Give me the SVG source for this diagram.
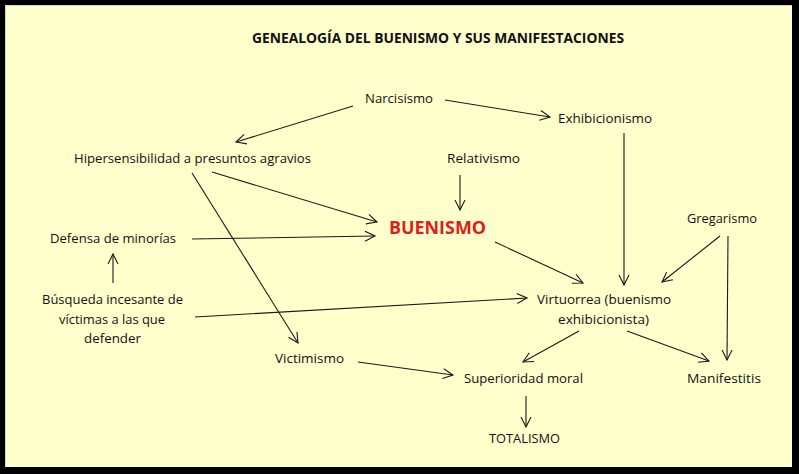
<svg xmlns="http://www.w3.org/2000/svg" width="799" height="474" viewBox="0 0 799 474">
<defs>
<style>
.t{font-family:"Open Sans","Liberation Sans",sans-serif;font-size:13px;fill:#111}
.title{font-family:"Open Sans","Liberation Sans",sans-serif;font-size:14.5px;font-weight:bold;fill:#111}
.main{font-family:"Open Sans","Liberation Sans",sans-serif;font-size:18.5px;font-weight:bold;fill:#e21b1b}
.c line{stroke:#1a1a1a;stroke-width:1.1;fill:none;marker-end:url(#ah)}
</style>
<marker id="ah" markerWidth="12" markerHeight="12" refX="11" refY="6" orient="auto" markerUnits="userSpaceOnUse">
<path d="M1,1 L11,6 L1,11" fill="none" stroke="#1a1a1a" stroke-width="1.1"/>
</marker>
</defs>
<rect x="0" y="0" width="799" height="474" fill="#000"/>
<rect x="5" y="5" width="787" height="462" fill="#ffffcc"/>
<path d="M5.5,467 V5.5 H792" fill="none" stroke="#d8d8d0" stroke-width="1"/>
<text class="title" x="252" y="43" textLength="372" lengthAdjust="spacingAndGlyphs">GENEALOGÍA DEL BUENISMO Y SUS MANIFESTACIONES</text>
<g class="c" id="connectors">
<line x1="353" y1="106" x2="236" y2="142"/>
<line x1="445" y1="100" x2="550" y2="117"/>
<line x1="624" y1="133" x2="624" y2="285"/>
<line x1="460" y1="175" x2="460" y2="210"/>
<line x1="212" y1="172" x2="377" y2="222"/>
<line x1="192" y1="173" x2="298" y2="343"/>
<line x1="192" y1="239" x2="375" y2="236"/>
<line x1="113" y1="283" x2="113" y2="254"/>
<line x1="195" y1="317" x2="527" y2="298"/>
<line x1="495" y1="242" x2="583" y2="283"/>
<line x1="720" y1="236" x2="662" y2="282"/>
<line x1="728" y1="236" x2="727" y2="360"/>
<line x1="579" y1="331" x2="523" y2="362"/>
<line x1="627" y1="331" x2="709" y2="361"/>
<line x1="358" y1="362" x2="453" y2="375"/>
<line x1="526" y1="396" x2="526" y2="427"/>
</g>
<g id="narcisismo"><text class="t" x="365" y="103" textLength="68" lengthAdjust="spacingAndGlyphs">Narcisismo</text></g>
<g id="exhibicionismo"><text class="t" x="558" y="123" textLength="94" lengthAdjust="spacingAndGlyphs">Exhibicionismo</text></g>
<g id="hipersensibilidad"><text class="t" x="74" y="163" textLength="237" lengthAdjust="spacingAndGlyphs">Hipersensibilidad a presuntos agravios</text></g>
<g id="relativismo"><text class="t" x="447" y="163" textLength="73" lengthAdjust="spacingAndGlyphs">Relativismo</text></g>
<g id="buenismo"><text class="main" x="389" y="234" textLength="97" lengthAdjust="spacingAndGlyphs">BUENISMO</text></g>
<g id="gregarismo"><text class="t" x="687" y="223" textLength="70" lengthAdjust="spacingAndGlyphs">Gregarismo</text></g>
<g id="defensa"><text class="t" x="50" y="243" textLength="126" lengthAdjust="spacingAndGlyphs">Defensa de minorías</text></g>
<g id="busqueda">
<text class="t" x="42" y="304" textLength="141" lengthAdjust="spacingAndGlyphs">Búsqueda incesante de</text>
<text class="t" x="59" y="324" textLength="106" lengthAdjust="spacingAndGlyphs">víctimas a las que</text>
<text class="t" x="84" y="343" textLength="57" lengthAdjust="spacingAndGlyphs">defender</text>
</g>
<g id="virtuorrea">
<text class="t" x="537" y="304" textLength="134" lengthAdjust="spacingAndGlyphs">Virtuorrea (buenismo</text>
<text class="t" x="558" y="324" textLength="91" lengthAdjust="spacingAndGlyphs">exhibicionista)</text>
</g>
<g id="victimismo"><text class="t" x="275" y="363" textLength="69" lengthAdjust="spacingAndGlyphs">Victimismo</text></g>
<g id="superioridad"><text class="t" x="464" y="383" textLength="119" lengthAdjust="spacingAndGlyphs">Superioridad moral</text></g>
<g id="manifestitis"><text class="t" x="687" y="383" textLength="74" lengthAdjust="spacingAndGlyphs">Manifestitis</text></g>
<g id="totalismo"><text class="t" x="489" y="443" textLength="71" lengthAdjust="spacingAndGlyphs">TOTALISMO</text></g>
</svg>
